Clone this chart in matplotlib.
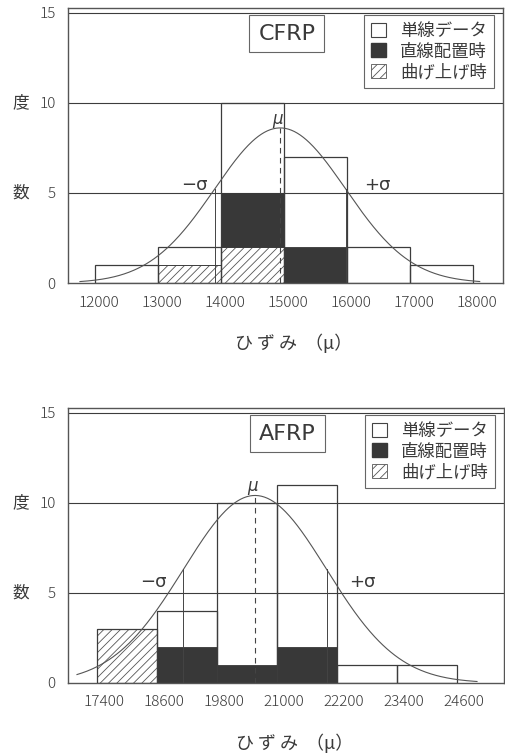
import matplotlib
matplotlib.use('Agg')
import matplotlib.pyplot as plt
from matplotlib.patches import Patch
from matplotlib.transforms import ScaledTranslation, blended_transform_factory
import numpy as np

plt.rcParams['font.family'] = ['Noto Sans CJK JP', 'DejaVu Sans']
plt.rcParams['hatch.linewidth'] = 0.6

# CFRP histogram (bin edges and counts)
cfrp_edges = [12000, 13000, 14000, 15000, 16000, 17000, 18000]
cfrp_single = [1, 2, 10, 7, 2, 1]
cfrp_straight = [0, 0, 3, 2, 0, 0]
cfrp_bent = [0, 1, 2, 0, 0, 0]
cfrp_fit = dict(mu=14940, sigma=1040, peak=8.6, lo=11760, hi=18110)

# AFRP histogram
afrp_edges = [17400, 18600, 19800, 21000, 22200, 23400, 24600]
afrp_single = [3, 4, 10, 11, 1, 1]
afrp_straight = [0, 2, 1, 2, 0, 0]
afrp_bent = [3, 0, 0, 0, 0, 0]
afrp_fit = dict(mu=20560, sigma=1430, peak=10.4, lo=17000, hi=25000)

legend_labels = ['単線データ', '直線配置時', '曲げ上げ時']
line_c = '#3c3c3c'
dark_c = '#383838'
text_c = '#3a3a3a'


def gauss(x, fit):
    return fit['peak'] * np.exp(-0.5 * ((x - fit['mu']) / fit['sigma']) ** 2)


def panel(ax, edges, single, straight, bent, fit, name, xlim, tick_shift, sig_off, sig_y):
    edges = np.array(edges, dtype=float)
    left = edges[:-1]
    width = np.diff(edges)

    ax.set_xlim(*xlim)
    ax.set_ylim(0, 15.25)

    # grid lines
    for yv in (5, 10, 15):
        ax.axhline(yv, color=line_c, lw=0.8, zorder=1)

    # bent (hatched) at bottom, straight (dark) stacked on it
    ax.bar(left, bent, width=width, align='edge', facecolor='white',
           edgecolor='#555555', hatch='////', lw=0.6, zorder=2)
    ax.bar(left, straight, width=width, align='edge', bottom=bent,
           color=dark_c, edgecolor=dark_c, lw=0.6, zorder=2)
    # single line data outlines
    ax.bar(left, single, width=width, align='edge', fill=False,
           edgecolor=line_c, lw=0.9, zorder=3)

    # fitted normal curve
    xs = np.linspace(fit['lo'], fit['hi'], 400)
    ax.plot(xs, gauss(xs, fit), color='#555555', lw=0.8, zorder=4)
    mu, s = fit['mu'], fit['sigma']
    ax.plot([mu, mu], [0, fit['peak']], color='#444444', lw=0.8,
            ls=(0, (5, 4)), zorder=4)
    for xv in (mu - s, mu + s):
        ax.plot([xv, xv], [0, gauss(xv, fit)], color='#444444', lw=0.7, zorder=4)

    ax.annotate('μ', (mu, fit['peak']), xytext=(-2, 0), textcoords='offset points',
                ha='center', va='bottom', fontsize=12, color=text_c,
                style='italic', family='DejaVu Sans')
    ax.annotate('−σ', (mu - s, sig_y), xytext=(-sig_off[0], 0),
                textcoords='offset points', ha='right', va='center',
                fontsize=13, color=text_c, family='DejaVu Sans')
    ax.annotate('+σ', (mu + s, sig_y), xytext=(sig_off[1], 0),
                textcoords='offset points', ha='left', va='center',
                fontsize=13, color=text_c, family='DejaVu Sans')

    # axes styling
    for sp in ax.spines.values():
        sp.set_color('#555555')
        sp.set_linewidth(1.0)
    ax.set_yticks([0, 5, 10, 15])
    ax.set_xticks(edges)
    ax.set_xticklabels([str(int(e)) for e in edges])
    ax.tick_params(axis='both', length=0, labelsize=11, colors=text_c)
    ax.tick_params(axis='x', pad=9)
    ax.tick_params(axis='y', pad=9)
    off = ScaledTranslation(tick_shift / 72, 0, ax.figure.dpi_scale_trans)
    for lab in ax.get_xticklabels():
        lab.set_transform(lab.get_transform() + off)
        lab.set_fontweight('light')
    for lab in ax.get_yticklabels():
        lab.set_fontweight('light')

    tr = blended_transform_factory(ax.transAxes, ax.transData)
    ax.text(-0.108, 10, '度', transform=tr, ha='center', va='center',
            fontsize=12, color=text_c)
    ax.text(-0.108, 5, '数', transform=tr, ha='center', va='center',
            fontsize=12, color=text_c)

    # name box
    ax.text(0.503, 0.907, name, transform=ax.transAxes, ha='center',
            va='center', fontsize=16, color=text_c, family='DejaVu Sans',
            bbox=dict(boxstyle='square,pad=0.4', fc='white', ec='#666666', lw=0.8),
            zorder=6)

    handles = [Patch(facecolor='white', edgecolor='#444444', lw=0.8),
               Patch(facecolor=dark_c, edgecolor=dark_c),
               Patch(facecolor='white', edgecolor='#555555', hatch='////', lw=0.6)]
    leg = ax.legend(handles, legend_labels, loc='upper right',
                    bbox_to_anchor=(0.979, 0.975), fontsize=12.5, fancybox=False,
                    edgecolor='#666666', framealpha=1, handlelength=0.85,
                    handleheight=0.85, handletextpad=0.8, borderaxespad=0,
                    labelspacing=0.15, borderpad=0.4)
    leg.get_frame().set_linewidth(0.8)
    for t in leg.get_texts():
        t.set_color(text_c)
    leg.set_zorder(7)


fig = plt.figure(figsize=(5.06, 7.55), dpi=100)
ax1 = fig.add_axes([68 / 506, 1 - 283 / 755, 435 / 506, 275 / 755])
ax2 = fig.add_axes([68 / 506, 1 - 683 / 755, 436 / 506, 275 / 755])

panel(ax1, cfrp_edges, cfrp_single, cfrp_straight, cfrp_bent, cfrp_fit,
      'CFRP', (11570, 18480), 3, (5, 13), 5.45)
panel(ax2, afrp_edges, afrp_single, afrp_straight, afrp_bent, afrp_fit,
      'AFRP', (16820, 25540), 5, (12, 16), 5.6)

fig.text(294 / 506, 1 - 343 / 755, 'ひ ず み  （μ）', ha='center', va='center',
         fontsize=13, color=text_c)
fig.text(295 / 506, 1 - 743 / 755, 'ひ ず み  （μ）', ha='center', va='center',
         fontsize=13, color=text_c)

fig.savefig('out.png', dpi=100, facecolor='white')
